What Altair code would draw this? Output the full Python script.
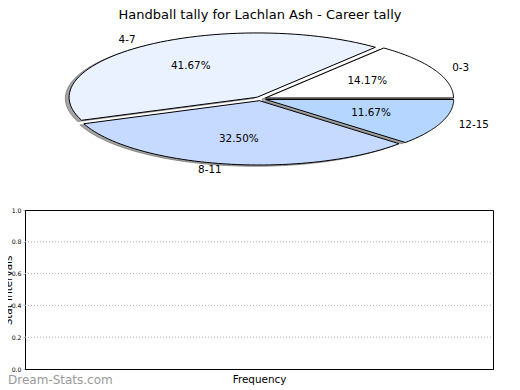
import altair as alt
import pandas as pd

# ---- data ----
categories = ["0-3", "4-7", "8-11", "12-15"]
counts = [17, 50, 39, 14]            # 14.17%, 41.67%, 32.50%, 11.67% of 120
slice_colors = ["#ffffff", "#eaf2ff", "#c6d9ff", "#b4d6ff"]
y_ticks = [0.0, 0.2, 0.4, 0.6, 0.8, 1.0]

chart_title = "Handball tally for Lachlan Ash - Career tally"
x_title = "Frequency"
y_title = "Stat Intervals"
watermark = "Dream-Stats.com"

# ---- pie geometry (matplotlib-style, unit radius, squashed by scales) ----
EXPLODE = 0.03
N = 60
LABEL_R = 1.1
PCT_R = 0.6
SHADOW = -0.02
X_DOM = [-1.2521, 1.2372]
Y_DOM = [-4.2022, -1.7294]
FONT = "DejaVu Sans"
LBL = 10.4

pie_df = pd.DataFrame({"cat": categories, "count": counts, "idx": list(range(len(categories)))})


def pie_base():
    return (
        alt.Chart(pie_df)
        .transform_joinaggregate(total="sum(count)")
        .transform_window(cum="sum(count)", sort=[alt.SortField("idx")], frame=[None, 0])
        .transform_calculate(th0="2*PI*(datum.cum-datum.count)/datum.total")
        .transform_calculate(th1="2*PI*datum.cum/datum.total")
        .transform_calculate(mid="(datum.th0+datum.th1)/2")
        .transform_calculate(ox=f"{EXPLODE}*cos(datum.mid)")
        .transform_calculate(oy=f"{EXPLODE}*sin(datum.mid)")
    )


def xs(field):
    return alt.X(field, type="quantitative",
                 scale=alt.Scale(domain=X_DOM, nice=False, zero=False), axis=None)


def ys(field):
    return alt.Y(field, type="quantitative",
                 scale=alt.Scale(domain=Y_DOM, nice=False, zero=False), axis=None)


def wedge_points(shift):
    return (
        pie_base()
        .transform_calculate(seq=f"sequence(0, {N + 3})")
        .transform_flatten(["seq"])
        .transform_calculate(ang=f"datum.th0 + (datum.th1-datum.th0)*(datum.seq-1)/{N}")
        .transform_calculate(apex=f"datum.seq == 0 || datum.seq == {N + 2}")
        .transform_calculate(px=f"datum.ox + (datum.apex ? 0 : cos(datum.ang)) + ({shift})")
        .transform_calculate(py=f"datum.oy + (datum.apex ? 0 : sin(datum.ang)) + ({shift})")
    )


shadow = wedge_points(SHADOW).mark_line(
    stroke="#4c4c4c", strokeWidth=1, strokeOpacity=0.5, fill="#4c4c4c",
    fillOpacity=0.5, clip=False, strokeJoin="miter"
).encode(x=xs("px"), y=ys("py"), order=alt.Order("seq:Q"), detail="cat:N")

wedges = wedge_points(0).mark_line(
    stroke="black", strokeWidth=1, clip=False, strokeJoin="miter"
).encode(
    x=xs("px"), y=ys("py"), order=alt.Order("seq:Q"), detail="cat:N",
    fill=alt.Fill("cat:N", scale=alt.Scale(domain=categories, range=slice_colors), legend=None),
)

labels = (
    pie_base()
    .transform_calculate(lx=f"datum.ox + {LABEL_R}*cos(datum.mid)")
    .transform_calculate(ly=f"datum.oy + {LABEL_R}*sin(datum.mid)")
)
lab_right = labels.transform_filter("datum.lx > 0").mark_text(
    align="left", baseline="middle", fontSize=LBL, font=FONT, color="black", clip=False
).encode(x=xs("lx"), y=ys("ly"), text="cat:N")
lab_left = labels.transform_filter("datum.lx <= 0").mark_text(
    align="right", baseline="middle", fontSize=LBL, font=FONT, color="black", clip=False
).encode(x=xs("lx"), y=ys("ly"), text="cat:N")

pct = (
    pie_base()
    .transform_calculate(qx=f"datum.ox + {PCT_R}*cos(datum.mid)")
    .transform_calculate(qy=f"datum.oy + {PCT_R}*sin(datum.mid)")
    .transform_calculate(pct="format(100*datum.count/datum.total, '.2f') + '%'")
    .mark_text(align="center", baseline="middle", fontSize=LBL, font=FONT, color="black", clip=False)
    .encode(x=xs("qx"), y=ys("qy"), text="pct:N")
)

pie = alt.layer(shadow, wedges, lab_left, lab_right, pct)

# ---- lower (empty) axes ----
tick_df = pd.DataFrame({"tick": y_ticks})
grid = (
    alt.Chart(tick_df)
    .transform_filter("datum.tick > 0 && datum.tick < 1")
    .transform_calculate(x0="0", x1="1")
    .mark_rule(strokeDash=[1, 2], color="#b0b0b0", strokeWidth=1)
    .encode(
        x=alt.X("x0:Q", scale=alt.Scale(domain=[0, 1], nice=False),
                title=x_title,
                axis=alt.Axis(labels=False, ticks=False, grid=False, domain=True,
                              domainColor="black", titleFontSize=LBL, titleFont=FONT,
                              titleFontWeight="normal", titleColor="black", titlePadding=5)),
        x2="x1:Q",
        y=alt.Y("tick:Q", scale=alt.Scale(domain=[0, 1], nice=False),
                title=y_title,
                axis=alt.Axis(values=y_ticks, format=".1f", grid=False, domain=True,
                              domainColor="black", tickSize=2, tickColor="#999999",
                              tickWidth=0.8, labelFontSize=6.2, labelFont=FONT,
                              labelColor="black", labelPadding=2,
                              titleFontSize=LBL, titleFont=FONT, titleFontWeight="normal",
                              titleColor="black", titleX=-14, titleY=80,
                              titleBaseline="alphabetic", titleAngle=270)),
    )
)

wm = alt.Chart(pd.DataFrame({"t": [watermark]})).mark_text(
    align="left", baseline="alphabetic", fontSize=12, font=FONT, color="#9a9a9a", clip=False
).encode(x=alt.value(-17), y=alt.value(174), text="t:N")

chart = (
    alt.layer(grid, pie, wm)
    .resolve_scale(x="independent", y="independent")
    .properties(
        width=468,
        height=159,
        autosize=alt.AutoSizeParams(type="none"),
        padding={"left": 17, "top": 202, "right": 19, "bottom": 21},
        title=alt.TitleParams(chart_title, fontSize=13, font=FONT, fontWeight="normal",
                              color="black", anchor="middle", frame="group", offset=8.5, dx=1),
    )
    .configure(font=FONT)
    .configure_view(stroke="black", strokeWidth=1)
)

chart.save("out.html", embed_options={"renderer": "svg", "actions": False})
